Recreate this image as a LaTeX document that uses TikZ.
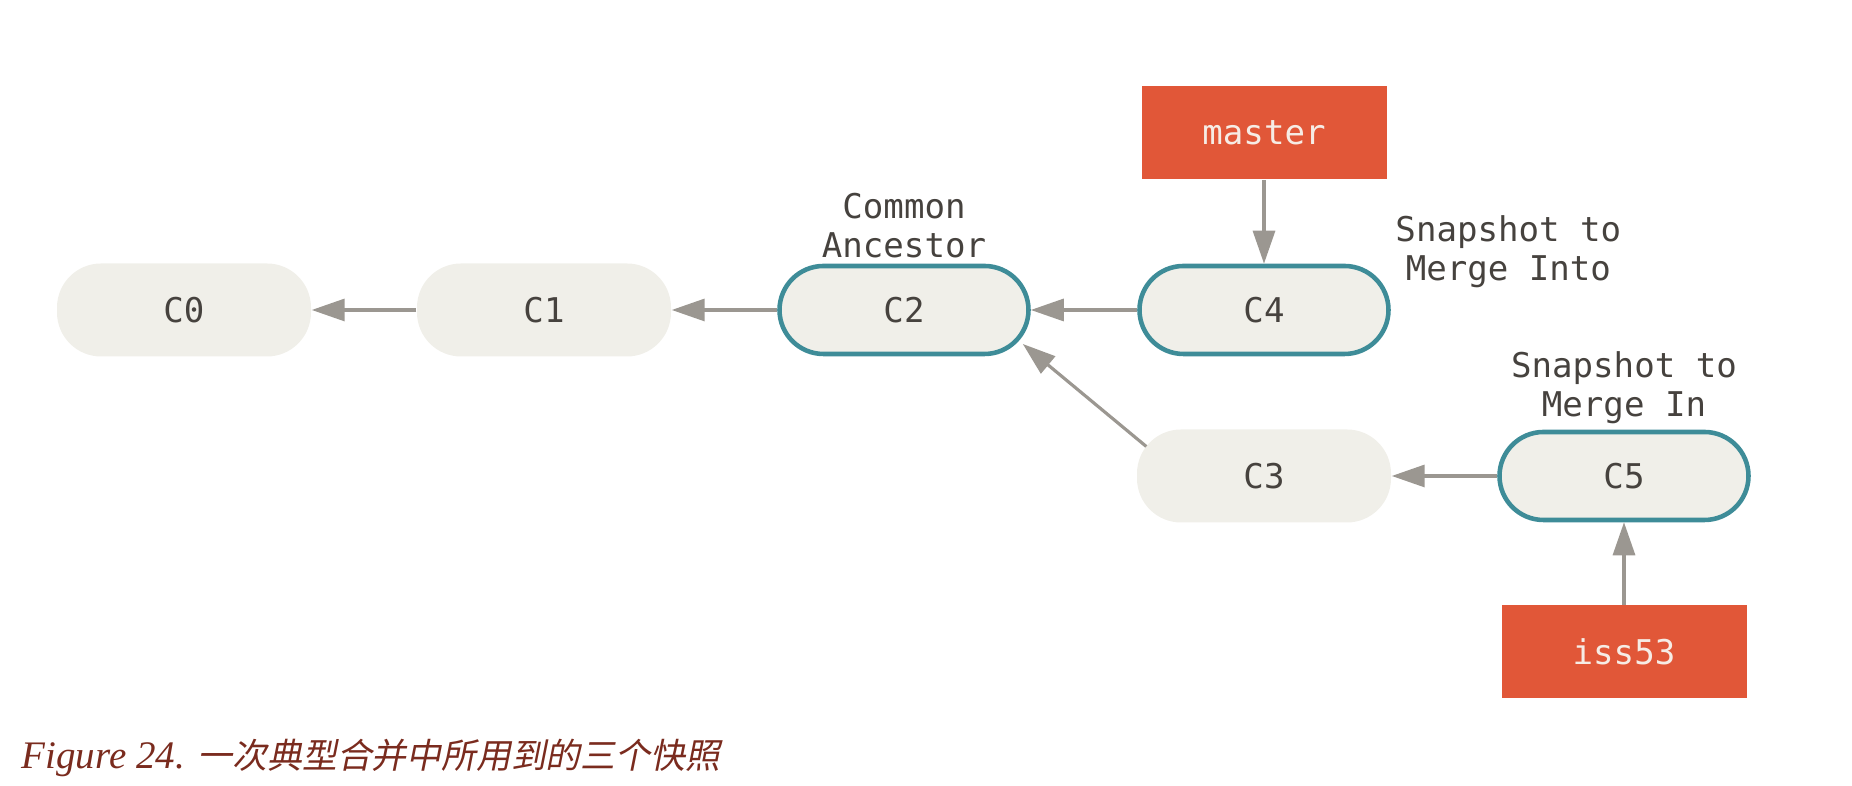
\documentclass[tikz,border=0pt]{standalone}
\usepackage{fontspec}
\setmainfont{Liberation Serif}
\setmonofont{DejaVu Sans Mono}
\newfontfamily\cjkfont[FakeSlant=0.2]{Noto Sans CJK SC}
\usepackage{xcolor}
\usepackage{tikz}
\usetikzlibrary{positioning}
\usetikzlibrary{shapes,arrows,calc,arrows.meta}

\definecolor{commitfill}{RGB}{240,239,233}
\definecolor{snapteal}{RGB}{62,140,152}
\definecolor{branchred}{RGB}{225,87,56}
\definecolor{branchtext}{RGB}{246,236,229}
\definecolor{arrowgray}{RGB}{155,151,145}
\definecolor{labelgray}{RGB}{70,66,62}
\definecolor{captionred}{RGB}{122,43,30}

\begin{document}
\begin{tikzpicture}[node distance=3.60cm, auto,
    commit/.style={rectangle, rounded corners=0.44cm, fill=commitfill, minimum width=2.54cm, minimum height=0.93cm, inner sep=0pt, font=\ttfamily\fontsize{9.7}{11.1}\selectfont, text=labelgray},
    snap/.style={commit, draw=snapteal, line width=1.3pt, minimum width=2.49cm, minimum height=0.88cm},
    branch/.style={rectangle, fill=branchred, minimum width=2.45cm, minimum height=0.93cm, inner sep=0pt, font=\ttfamily\fontsize{9.7}{11.1}\selectfont, text=branchtext},
    note/.style={align=center, inner sep=0pt, font=\ttfamily\fontsize{9.7}{11.1}\selectfont, text=labelgray},
    arr/.style={-{Triangle[length=0.33cm, width=0.22cm]}, draw=arrowgray, line width=0.9pt}]
    \useasboundingbox (0,0) rectangle (18.52,7.86);

    % Nodes
    \node [commit] at (1.84,4.76) (c0) {C0};
    \node [commit, right of=c0] (c1) {C1};
    \node [snap, right of=c1] (c2) {C2};
    \node [snap, right of=c2] (c4) {C4};
    \node [commit, below of=c4, node distance=1.66cm] (c3) {C3};
    \node [snap, right of=c3] (c5) {C5};
    \node [branch, above of=c4, node distance=1.77cm] (master) {master};
    \node [branch, below of=c5, node distance=1.76cm] (iss53) {iss53};

    % Labels
    \node [note, above=0.05cm of c2] (ancestor) {Common\\Ancestor};
    \node [note, right=0.04cm of c4.north east, yshift=0.12cm] (into) {Snapshot to\\Merge Into};
    \node [note, above=0.05cm of c5] (in) {Snapshot to\\Merge In};

    % Arrows
    \draw [arr] (c1) -- (c0);
    \draw [arr] (c2) -- (c1);
    \draw [arr] (c4) -- (c2);
    \draw [arr] ([xshift=1mm]c3.167) -- ([xshift=-0.8mm]c2.-15);
    \draw [arr] (c5) -- (c3);
    \draw [arr] (master) -- (c4);
    \draw [arr] (iss53) -- (c5);

    % Caption
    \node [anchor=base west, inner sep=0pt, text=captionred, font=\itshape\fontsize{11.1}{13}\selectfont] at (0.21,0.17) (caption) {Figure 24. {\cjkfont\fontsize{9.9}{13}\selectfont 一次典型合并中所用到的三个快照}};
\end{tikzpicture}
\end{document}
